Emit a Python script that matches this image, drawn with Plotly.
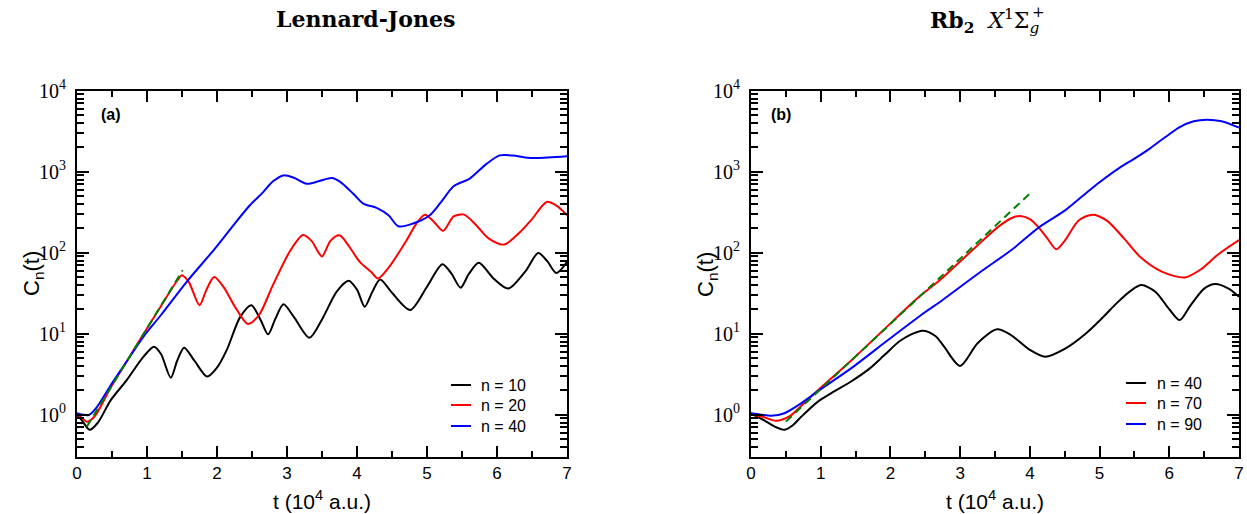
import plotly.graph_objects as go

W, H = 1247, 514

# ---------------- data (t in 10^4 a.u., C_n(t)) ----------------
lj_t_n10 = [0, 0.07, 0.18, 0.3, 0.48, 0.71, 0.95, 1.1, 1.2, 1.34, 1.43, 1.53, 1.68, 1.86, 2.0, 2.14, 2.33,
            2.49, 2.62, 2.73, 2.83, 2.95, 3.1, 3.32, 3.5, 3.71, 3.88, 4.0, 4.11, 4.22, 4.33, 4.5, 4.76,
            5.0, 5.22, 5.35, 5.48, 5.6, 5.74, 5.95, 6.16, 6.4, 6.59, 6.72, 6.85, 7.0]
lj_c_n10 = [1.0, 0.85, 0.65, 0.8, 1.5, 2.67, 5.2, 6.9, 5.6, 2.86, 4.6, 6.7, 4.6, 2.95, 3.8, 6.3, 16,
            22.5, 15, 9.8, 15, 23, 16, 8.9, 15, 33, 45, 35, 21.5, 33, 46.7, 32, 19.6,
            38, 72, 55, 37, 55, 75, 48, 36, 58, 99, 78, 56, 77]

lj_t_n20 = [0, 0.06, 0.14, 0.25, 0.48, 0.7, 0.95, 1.2, 1.43, 1.5, 1.6, 1.75, 1.85, 1.96, 2.1, 2.25,
            2.44, 2.6, 2.8, 3.05, 3.23, 3.35, 3.5, 3.62, 3.75, 3.9, 4.04, 4.2, 4.3, 4.45, 4.71, 4.85, 4.97,
            5.1, 5.23, 5.38, 5.53, 5.7, 5.88, 6.1, 6.33, 6.5, 6.71, 6.85, 7.0]
lj_c_n20 = [1.0, 0.93, 0.82, 0.95, 2.15, 4.4, 9.9, 22, 45, 52.6, 43, 22.5, 35, 50, 37, 22,
            13.2, 17, 40, 107, 165, 140, 90, 140, 164, 115, 77, 58, 48, 65, 143, 230, 295,
            240, 186, 280, 295, 220, 150, 126, 180, 260, 423, 380, 290]

lj_t_n40 = [0, 0.08, 0.17, 0.29, 0.38, 0.5, 0.7, 0.95, 1.2, 1.57, 1.95, 2.2, 2.47, 2.66, 2.8, 2.95, 3.1, 3.28,
            3.45, 3.64, 3.76, 3.95, 4.09, 4.28, 4.45, 4.59, 4.8, 5.04, 5.2, 5.38, 5.61, 5.85, 6.04, 6.23,
            6.4, 6.57, 7.0]
lj_c_n40 = [1.04, 1.0, 0.99, 1.26, 1.66, 2.44, 4.4, 9.2, 17, 44, 107, 200, 385, 560, 760, 900, 840, 710,
            760, 835, 750, 530, 404, 357, 290, 212, 229, 290, 420, 661, 822, 1250, 1590, 1580,
            1500, 1477, 1549]

lj_fit_t = [0.14, 1.51]
lj_fit_c = [0.71, 60.8]

rb_t_n40 = [0, 0.19, 0.33, 0.48, 0.6, 0.72, 0.96, 1.2, 1.43, 1.7, 1.91, 2.15, 2.46, 2.65, 2.77, 3.0, 3.25,
            3.53, 3.73, 4.0, 4.22, 4.5, 4.8, 5.05, 5.25, 5.45, 5.6, 5.8, 6.0, 6.15, 6.3, 6.5, 6.66, 6.85, 7.0]
rb_c_n40 = [1.04, 0.85, 0.72, 0.65, 0.74, 0.94, 1.45, 1.95, 2.55, 3.7, 5.4, 8.3, 10.9, 9.3, 6.9, 4.0, 7.6,
            11.3, 9.6, 6.3, 5.2, 6.5, 10, 16, 24, 34, 39.8, 33, 20, 14.7, 22, 36, 41, 36, 28.5]

rb_t_n70 = [0, 0.15, 0.36, 0.55, 0.72, 0.96, 1.43, 1.91, 2.39, 2.71, 3.0, 3.3, 3.55, 3.75, 3.86, 4.0, 4.12,
            4.25, 4.38, 4.5, 4.7, 4.9, 5.1, 5.35, 5.58, 5.9, 6.22, 6.45, 6.7, 7.0]
rb_c_n70 = [1.0, 0.95, 0.84, 0.95, 1.28, 2.0, 4.6, 11.3, 27.5, 46, 78, 135, 210, 270, 284, 260, 208,
            150, 110, 140, 250, 295, 250, 150, 89, 58, 49.4, 62, 95, 143]

rb_t_n90 = [0, 0.15, 0.29, 0.48, 0.72, 0.96, 1.43, 1.97, 2.5, 2.72, 3.28, 3.73, 4.14, 4.5, 4.77, 5.0, 5.29,
            5.5, 5.72, 5.95, 6.15, 6.35, 6.54, 6.75, 7.0]
rb_c_n90 = [1.04, 1.0, 0.97, 1.04, 1.38, 1.95, 3.7, 8.4, 18.5, 25, 57, 107, 208, 330, 512, 740, 1122,
            1450, 1930, 2700, 3556, 4200, 4390, 4200, 3500]

rb_fit_t = [0.5, 4.0]
rb_fit_c = [0.82, 537]

legend_a = ["n = 10", "n = 20", "n = 40"]
legend_b = ["n = 40", "n = 70", "n = 90"]
colors = ["#000000", "#ff0000", "#0000ff"]
fit_color = "#008000"

x_ticks = [0, 1, 2, 3, 4, 5, 6, 7]
x_minor = [0.5, 1.5, 2.5, 3.5, 4.5, 5.5, 6.5]
y_ticks = [1, 10, 100, 1000, 10000]
y_ticktext = ["10<sup>0</sup>", "10<sup>1</sup>", "10<sup>2</sup>", "10<sup>3</sup>", "10<sup>4</sup>"]
y_minor = [m * 10 ** e for e in range(-1, 4) for m in range(2, 10) if m * 10 ** e >= 0.3]

# ---------------- figure ----------------
fig = go.Figure()
series_a = [(lj_t_n10, lj_c_n10), (lj_t_n20, lj_c_n20), (lj_t_n40, lj_c_n40)]
series_b = [(rb_t_n40, rb_c_n40), (rb_t_n70, rb_c_n70), (rb_t_n90, rb_c_n90)]
for (t, c), col, name in zip(series_a, colors, legend_a):
    fig.add_trace(go.Scatter(x=t, y=c, mode="lines", line=dict(color=col, width=2, shape="spline", smoothing=0.8),
                             name=name, xaxis="x", yaxis="y", showlegend=False))
fig.add_trace(go.Scatter(x=lj_fit_t, y=lj_fit_c, mode="lines", line=dict(color=fit_color, width=2, dash="8px,5px"),
                         xaxis="x", yaxis="y", showlegend=False))
for (t, c), col, name in zip(series_b, colors, legend_b):
    fig.add_trace(go.Scatter(x=t, y=c, mode="lines", line=dict(color=col, width=2, shape="spline", smoothing=0.8),
                             name=name, xaxis="x2", yaxis="y2", showlegend=False))
fig.add_trace(go.Scatter(x=rb_fit_t, y=rb_fit_c, mode="lines", line=dict(color=fit_color, width=2, dash="8px,5px"),
                         xaxis="x2", yaxis="y2", showlegend=False))

ydom = [1 - 457 / H, 1 - 90.7 / H]

def xaxis_style(dom, anchor):
    return dict(domain=dom, anchor=anchor, range=[0, 7], tickvals=x_ticks, ticks="inside", ticklen=11, tickwidth=2,
                tickcolor="black", showline=True, linewidth=2, linecolor="black", mirror="ticks",
                showgrid=False, zeroline=False, automargin=False,
                tickfont=dict(family="Liberation Sans, Arial, sans-serif", size=17, color="black"),
                minor=dict(tickvals=x_minor, ticks="inside", ticklen=6, tickwidth=2, tickcolor="black", showgrid=False))

def yaxis_style(anchor):
    return dict(domain=ydom, anchor=anchor, type="log", range=[-0.5229, 4], tickvals=y_ticks, ticktext=y_ticktext,
                ticks="inside", ticklen=12, tickwidth=2, tickcolor="black", showline=True, linewidth=2,
                linecolor="black", mirror="ticks", showgrid=False, zeroline=False, ticklabelstandoff=5,
                automargin=False,
                tickfont=dict(family="Liberation Serif, Times New Roman, serif", size=20, color="black"),
                minor=dict(tickvals=y_minor, ticks="inside", ticklen=7, tickwidth=2, tickcolor="black", showgrid=False))

fig.update_layout(
    width=W, height=H, margin=dict(l=0, r=0, t=0, b=0, autoexpand=False),
    paper_bgcolor="white", plot_bgcolor="white", showlegend=False,
    xaxis=xaxis_style([77 / W, 567 / W], "y"),
    yaxis=yaxis_style("x"),
    xaxis2=xaxis_style([751 / W, 1239 / W], "y2"),
    yaxis2=yaxis_style("x2"),
)

sans = "Liberation Sans, Arial, sans-serif"
tserif = "DejaVu Serif, serif"
ann = []
# panel titles
ann.append(dict(text="<b>Lennard-Jones</b>", x=365 / W, y=1 - 19 / H, xref="paper", yref="paper",
                xanchor="center", yanchor="middle", showarrow=False, font=dict(family=tserif, size=22, color="black")))
ann.append(dict(text="<b>Rb</b><sub><b>2</b></sub>  <i>X</i><sup>1</sup>Σ<sub><i>g</i></sub>", x=928 / W, y=1 - 21 / H,
                xref="paper", yref="paper", xanchor="left", yanchor="middle", showarrow=False,
                font=dict(family=tserif, size=22, color="black")))
ann.append(dict(text="+", x=1030 / W, y=1 - 12 / H, xref="paper", yref="paper", xanchor="left", yanchor="middle",
                showarrow=False, font=dict(family=tserif, size=15, color="black")))
# axis titles
for xc in [322, 995]:
    ann.append(dict(text="t (10<sup>4</sup> a.u.)", x=xc / W, y=1 - 500 / H, xref="paper", yref="paper",
                    xanchor="center", yanchor="middle", showarrow=False, font=dict(family=sans, size=21, color="black")))
for xc in [33, 707]:
    ann.append(dict(text="C<sub>n</sub>(t)", x=xc / W, y=1 - 274 / H, xref="paper", yref="paper", textangle=-90,
                    xanchor="center", yanchor="middle", showarrow=False, font=dict(family=sans, size=22, color="black")))
# panel labels
ann.append(dict(text="<b>(a)</b>", x=99 / W, y=1 - 115 / H, xref="paper", yref="paper", xanchor="left",
                yanchor="middle", showarrow=False, font=dict(family=sans, size=16, color="black")))
ann.append(dict(text="<b>(b)</b>", x=769 / W, y=1 - 114 / H, xref="paper", yref="paper", xanchor="left",
                yanchor="middle", showarrow=False, font=dict(family=sans, size=16, color="black")))

shapes = []
# legends
for lx, tx, names, ys in [(451, 479, legend_a, [385, 405, 426]), (1126, 1155, legend_b, [383, 403, 424])]:
    for name, col, yy in zip(names, colors, ys):
        shapes.append(dict(type="line", xref="paper", yref="paper", x0=lx / W, x1=(lx + 20) / W,
                           y0=1 - yy / H, y1=1 - yy / H, line=dict(color=col, width=2)))
        ann.append(dict(text=name, x=tx / W, y=1 - yy / H, xref="paper", yref="paper", xanchor="left",
                        yanchor="middle", showarrow=False, font=dict(family=sans, size=16, color="black")))

fig.update_layout(annotations=ann, shapes=shapes)
fig.write_html("out.html", config={"displayModeBar": False},
               post_script="document.body.style.margin='0';document.body.style.padding='0';")
